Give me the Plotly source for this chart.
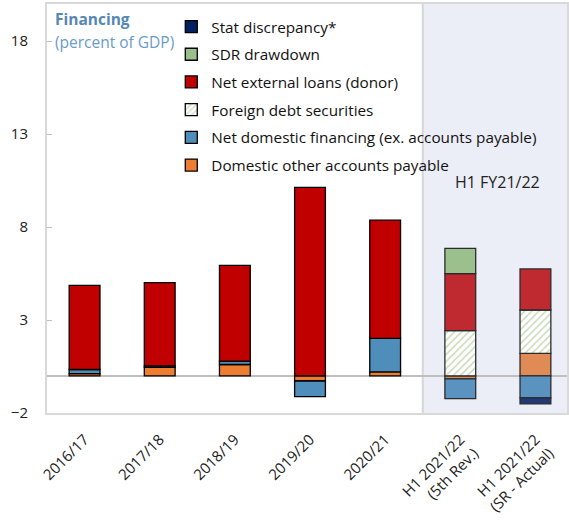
import plotly.graph_objects as go

categories = ["2016/17", "2017/18", "2018/19", "2019/20", "2020/21",
              "H1 2021/22<br>(5th Rev.)", "H1 2021/22<br>(SR - Actual)"]
dom_other = [0.12, 0.45, 0.61, -0.28, 0.21, -0.16, 1.21]
net_dom = [0.22, 0.08, 0.18, -0.84, 1.80, -1.07, -1.19]
stat_disc = [None, None, None, None, None, None, -0.32]
foreign_sec = [None, None, None, None, None, 2.43, 2.33]
net_ext = [4.53, 4.48, 5.15, 10.14, 6.36, 3.07, 2.21]
sdr = [None, None, None, None, None, 1.35, None]
y_ticks = [18, 13, 8, 3, -2]

x = list(range(len(categories)))
n_hist = 5
FONT = "Open Sans"

def per_bar(c_hist, c_h1):
    return [c_hist] * n_hist + [c_h1] * (len(categories) - n_hist)

line_cols = per_bar("#000000", "#2b2b2b")
fig = go.Figure()

def add(name, vals, colors, rank, pattern=None):
    marker = dict(color=colors, line=dict(color=line_cols, width=1.3))
    if pattern:
        marker["pattern"] = pattern
    fig.add_trace(go.Bar(x=x, y=vals, name=name, marker=marker, width=0.41,
                         legendgroup=name, legendrank=rank))

add("Domestic other accounts payable", dom_other, per_bar("#ED7D31", "#E08A55"), 6)
add("Net domestic financing (ex. accounts payable)", net_dom, per_bar("#4F8DBB", "#5A93BF"), 5)
add("Stat discrepancy*", stat_disc, per_bar("#002060", "#1F3A75"), 1)
add("Foreign debt securities", foreign_sec, "#FFFFFF", 4,
    pattern=dict(shape="/", fgcolor="#8DB76F", bgcolor="#FFFFFF", size=5, solidity=0.3))
add("Net external loans (donor)", net_ext, per_bar("#C00000", "#BF2A30"), 3)
add("SDR drawdown", sdr, per_bar("#9BBF8A", "#9BBF8D"), 2)

fig.add_shape(type="rect", xref="x", yref="paper", x0=4.5, x1=7, y0=0, y1=1,
              fillcolor="#ECEEF7", line=dict(width=0), layer="below")
fig.add_shape(type="line", xref="x", yref="paper", x0=4.5, x1=4.5, y0=0, y1=1,
              line=dict(color="#D6D6D6", width=2), layer="below")

fig.add_annotation(xref="paper", yref="paper", x=0.012, y=0.995, xanchor="left", yanchor="top",
                   text="<b>Financing</b>", showarrow=False,
                   font=dict(family=FONT, size=15.5, color="#5587B5"))
fig.add_annotation(xref="paper", yref="paper", x=0.012, y=0.94, xanchor="left", yanchor="top",
                   text="(percent of GDP)", showarrow=False,
                   font=dict(family=FONT, size=15.5, color="#6A9BCB"))
fig.add_annotation(xref="x", yref="y", x=5.5, y=10.4, text="H1 FY21/22", showarrow=False,
                   font=dict(family=FONT, size=16, color="#222222"))

fig.update_layout(
    width=569, height=520,
    margin=dict(l=47, r=0, t=4, b=107),
    barmode="relative",
    plot_bgcolor="#FFFFFF", paper_bgcolor="#FFFFFF",
    font=dict(family=FONT, size=14, color="#222222"),
    showlegend=True,
    legend=dict(x=0.239, y=0.985, xanchor="left", yanchor="top",
                bgcolor="rgba(0,0,0,0)", tracegroupgap=4.8,
                font=dict(family=FONT, size=15.3, color="#111111")),
    xaxis=dict(range=[-0.5, 6.42], tickmode="array", tickvals=x, ticktext=categories,
               tickangle=-45, showgrid=False, ticks="", showline=True, mirror=True,
               linecolor="#D9D9D9", linewidth=2, zeroline=False, ticklabelstandoff=10,
               tickfont=dict(family=FONT, size=15)),
    xaxis2=dict(overlaying="x", anchor="free", position=2 / 22, range=[-0.5, 6.42],
                tickmode="array", tickvals=[i + 0.5 for i in range(6)], ticks="inside",
                ticklen=5, tickcolor="#BFBFBF", tickwidth=1, showticklabels=False,
                showline=False, showgrid=False, zeroline=False),
    yaxis=dict(range=[-2, 20], tickmode="array", tickvals=y_ticks,
               ticks="inside", ticklen=5, tickcolor="#BFBFBF", showgrid=False,
               showline=True, mirror=True, linecolor="#D9D9D9", linewidth=2,
               zeroline=True, zerolinecolor="#BFBFBF", zerolinewidth=1.5,
               ticklabelstandoff=14, tickfont=dict(family=FONT, size=15)),
)

fig.write_html("out.html", config={"displayModeBar": False},
               post_script="document.body.style.margin='0';")
